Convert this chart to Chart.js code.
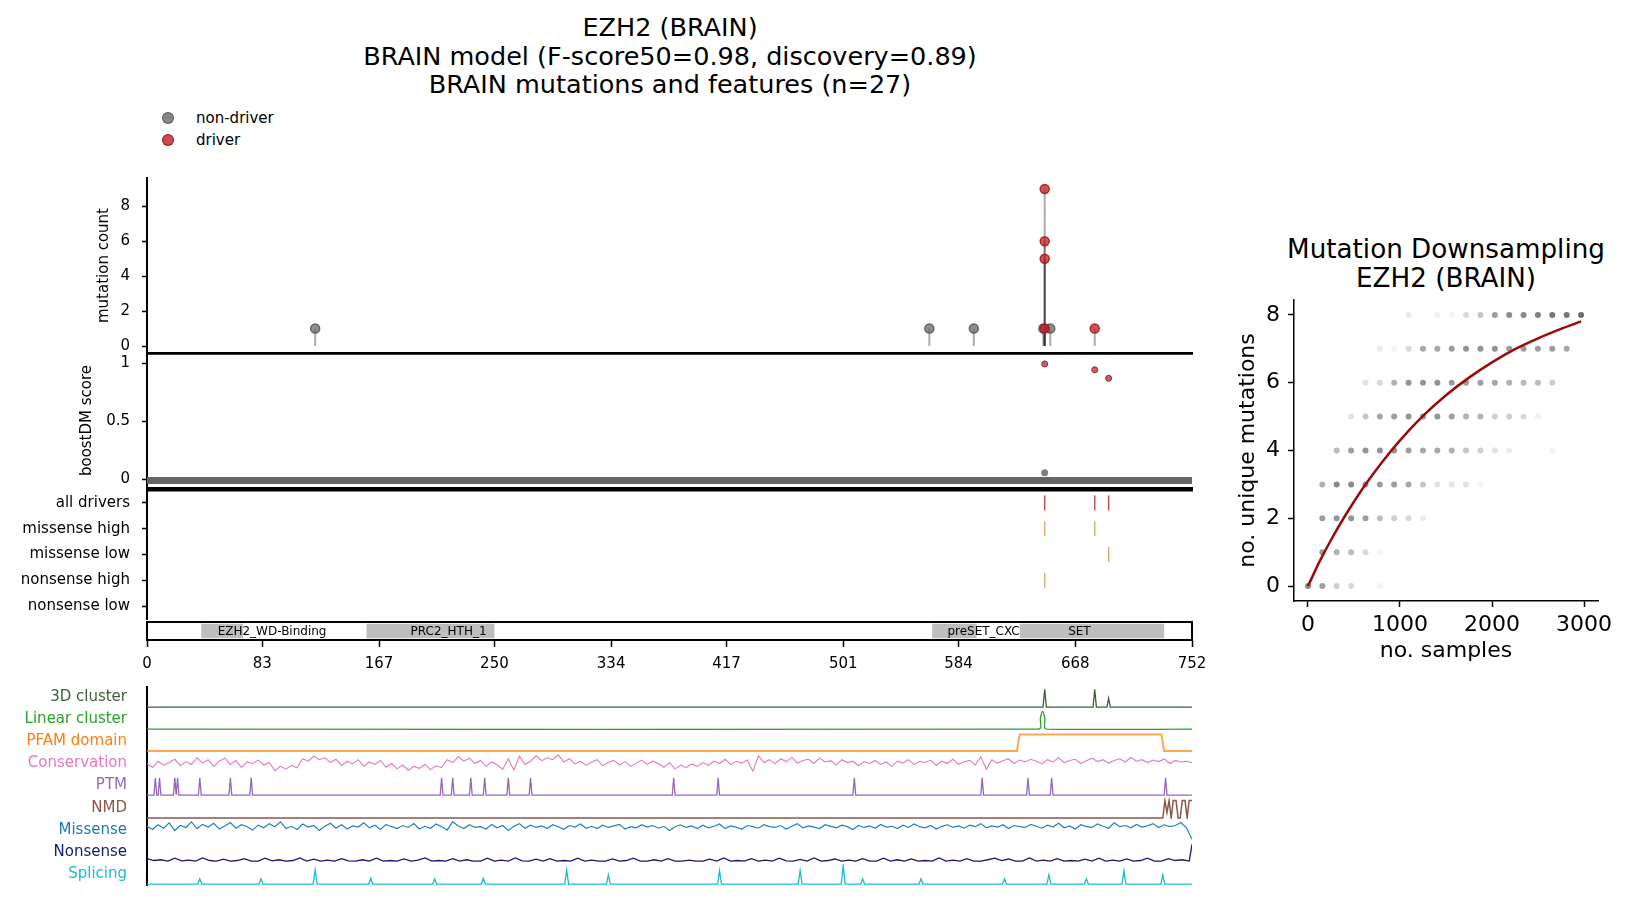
<!DOCTYPE html>
<html>
<head>
<meta charset="utf-8">
<title>EZH2 (BRAIN)</title>
<script src="https://cdn.jsdelivr.net/npm/chart.js@4.4.1/dist/chart.umd.min.js"></script>
<style>
  html, body { margin: 0; padding: 0; background: #fff; }
  #fig { position: relative; width: 1627px; height: 905px; overflow: hidden;
         font-family: 'DejaVu Sans', sans-serif; color: #000; }
  #fig canvas { position: absolute; }
  .txt { position: absolute; white-space: nowrap; }
  .dot { position: absolute; width: 10px; height: 10px; border-radius: 50%; }
</style>
</head>
<body>
<div id="fig">
  <div class="txt" style="left:270px; width:800px; top:13px; text-align:center; font-size:25.5px; line-height:28.5px;">EZH2 (BRAIN)<br>BRAIN model (F-score50=0.98, discovery=0.89)<br>BRAIN mutations and features (n=27)</div>
  <div class="dot" style="left:162px; top:112px; background:rgba(105,105,105,0.8); border:1px solid rgba(85,85,85,0.9)"></div>
  <div class="txt" style="left:196px; top:109px; font-size:15px; line-height:18px;">non-driver</div>
  <div class="dot" style="left:162px; top:134px; background:rgba(192,28,36,0.8); border:1px solid rgba(150,20,25,0.9)"></div>
  <div class="txt" style="left:196px; top:131px; font-size:15px; line-height:18px;">driver</div>
  <div class="txt" style="left:1246px; width:400px; top:235px; text-align:center; font-size:26.2px; line-height:29px;">Mutation Downsampling<br>EZH2 (BRAIN)</div>
</div>
<script>
// ---- data ----
const geneLength = 752;
const posTicks = [0, 83, 167, 250, 334, 417, 501, 584, 668, 752];

// lollipop panel
const mutPos = [121, 563, 595, 645, 650, 646, 646, 646, 646, 682];
const mutCount = [1, 1, 1, 1, 1, 9, 6, 5, 1, 1];
const mutDriver = [0, 0, 0, 0, 0, 1, 1, 1, 1, 1];
const countTicks = [0, 2, 4, 6, 8];

// boostDM panel
const boostBandPos = [0, 752];
const boostBandScore = [-0.01, -0.01];
const boostPos = [646, 646, 682, 692];
const boostScore = [0.057, 0.995, 0.944, 0.871];
const boostDriver = [0, 1, 1, 1];
const boostTicks = [0, 0.5, 1];

// driver tracks
const driverRows = ['all drivers', 'missense high', 'missense low', 'nonsense high', 'nonsense low'];
const driverHitPos = [646, 682, 692, 646, 682, 692, 646];
const driverHitRow = ['all drivers', 'all drivers', 'all drivers', 'missense high', 'missense high', 'missense low', 'nonsense high'];

// pfam domains
const domainNames = ['EZH2_WD-Binding', 'PRC2_HTH_1', 'preSET_CXC', 'SET'];
const domainStart = [39, 158, 565, 628];
const domainEnd = [69, 250, 597, 732];
const domainLabelPos = [90, 217, 602, 671];

// feature tracks
const trackNames = ['3D cluster', 'Linear cluster', 'PFAM domain', 'Conservation', 'PTM', 'NMD', 'Missense', 'Nonsense', 'Splicing'];

const cluster3dPos = [646, 682, 692];
const cluster3dVal = [0.93, 0.93, 0.46];

const linearPos = [0, 641.5, 643, 644.5, 646, 647.5, 752];
const linearVal = [0, 0, 0.6, 0.93, 0.6, 0, 0];

const pfamPos = [0, 626, 628, 730, 732, 752];
const pfamVal = [0, 0, 0.87, 0.87, 0, 0];

// conservation and missense sampled every 4 residues, nonsense every 5
const conservationStep = 4;
const conservation = [
  0.48,0.30,0.62,0.40,0.55,0.72,0.38,0.60,0.45,0.80,
  0.52,0.70,0.35,0.62,0.78,0.45,0.66,0.30,0.58,0.50,
  0.68,0.42,0.55,0.12,0.35,0.20,0.40,0.28,0.75,0.62,
  0.88,0.70,0.80,0.55,0.72,0.40,0.62,0.48,0.70,0.36,
  0.58,0.45,0.66,0.30,0.50,0.22,0.42,0.15,0.35,0.25,
  0.45,0.18,0.38,0.28,0.70,0.55,0.85,0.62,0.78,0.50,
  0.66,0.35,0.58,0.42,0.20,0.75,0.15,0.88,0.45,0.62,
  0.90,0.65,0.80,0.70,0.95,0.58,0.75,0.48,0.62,0.40,
  0.58,0.70,0.38,0.55,0.66,0.42,0.60,0.35,0.52,0.68,
  0.45,0.62,0.50,0.30,0.55,0.22,0.42,0.28,0.48,0.35,
  0.55,0.40,0.62,0.50,0.72,0.45,0.60,0.52,0.68,0.10,
  0.90,0.55,0.70,0.48,0.75,0.60,0.82,0.52,0.66,0.72,
  0.50,0.78,0.58,0.65,0.42,0.70,0.55,0.62,0.38,0.60,
  0.50,0.66,0.45,0.58,0.35,0.62,0.52,0.70,0.44,0.60,
  0.55,0.68,0.40,0.62,0.50,0.72,0.46,0.58,0.66,0.42,
  0.85,0.20,0.70,0.52,0.64,0.75,0.50,0.68,0.58,0.72,
  0.62,0.48,0.70,0.58,0.80,0.55,0.66,0.72,0.50,0.64,
  0.78,0.60,0.70,0.52,0.66,0.75,0.58,0.82,0.62,0.70,
  0.55,0.68,0.60,0.74,0.50,0.66,0.58,0.62,0.54
];

const ptmPos = [6, 9, 20, 22, 38, 60, 75, 212, 220, 233, 243, 260, 276, 379, 411, 509, 601, 634, 651, 733];
const ptmVal = [0.9, 0.9, 0.9, 0.9, 0.9, 0.9, 0.9, 0.9, 0.9, 0.9, 0.9, 0.9, 0.9, 0.9, 0.9, 0.9, 0.9, 0.9, 0.9, 0.9];

const nmdPos = [0, 731, 732.5, 734, 735.5, 737, 738.5, 740.5, 742, 743.5, 745, 747, 748.5, 750, 752];
const nmdVal = [0, 0, 0.92, 0.3, 0.92, 0, 0.92, 0.92, 0, 0, 0.92, 0.92, 0, 0.92, 0.92];

const missenseStep = 4;
const missense = [
  0.72,0.55,0.80,0.62,0.90,0.50,0.76,0.66,0.95,0.60,
  0.82,0.68,0.88,0.58,0.74,0.92,0.62,0.80,0.70,0.52,
  0.78,0.64,0.86,0.70,0.95,0.60,0.72,0.55,0.84,0.68,
  0.76,0.50,0.72,0.88,0.62,0.80,0.58,0.74,0.68,0.90,
  0.64,0.78,0.55,0.82,0.70,0.60,0.76,0.66,0.86,0.58,
  0.72,0.62,0.84,0.70,0.52,0.96,0.74,0.60,0.80,0.66,
  0.70,0.58,0.82,0.64,0.76,0.50,0.72,0.86,0.62,0.78,
  0.66,0.74,0.60,0.80,0.70,0.56,0.76,0.68,0.84,0.62,
  0.72,0.60,0.78,0.66,0.74,0.82,0.58,0.70,0.64,0.80,
  0.68,0.76,0.62,0.72,0.50,0.70,0.80,0.66,0.74,0.60,
  0.78,0.64,0.72,0.84,0.60,0.74,0.68,0.56,0.76,0.70,
  0.62,0.80,0.70,0.66,0.76,0.58,0.72,0.86,0.64,0.74,
  0.68,0.60,0.80,0.72,0.64,0.78,0.70,0.55,0.76,0.66,
  0.74,0.62,0.82,0.68,0.72,0.60,0.78,0.66,0.84,0.70,
  0.64,0.76,0.58,0.72,0.80,0.66,0.74,0.62,0.78,0.70,
  0.86,0.64,0.74,0.68,0.80,0.60,0.76,0.70,0.66,0.82,
  0.72,0.62,0.78,0.68,0.88,0.64,0.74,0.58,0.80,0.70,
  0.66,0.84,0.72,0.62,0.90,0.70,0.76,0.64,0.82,0.68,
  0.74,0.86,0.66,0.80,0.70,0.76,0.92,0.64,0.04
];

const nonsenseStep = 5;
const nonsense = [
  0.18,0.08,0.12,0.05,0.20,0.06,0.10,0.05,0.22,0.08,
  0.05,0.15,0.05,0.08,0.18,0.05,0.05,0.20,0.06,0.12,
  0.05,0.08,0.22,0.05,0.15,0.05,0.10,0.05,0.18,0.06,
  0.05,0.12,0.05,0.20,0.05,0.08,0.05,0.16,0.05,0.10,
  0.22,0.05,0.08,0.05,0.18,0.05,0.12,0.05,0.05,0.20,
  0.05,0.10,0.05,0.22,0.06,0.05,0.15,0.05,0.18,0.05,
  0.08,0.05,0.20,0.05,0.10,0.05,0.05,0.16,0.05,0.08,
  0.20,0.05,0.05,0.12,0.05,0.18,0.05,0.05,0.10,0.05,
  0.05,0.15,0.05,0.22,0.05,0.08,0.05,0.18,0.05,0.10,
  0.05,0.20,0.06,0.05,0.14,0.05,0.22,0.05,0.08,0.16,
  0.05,0.10,0.05,0.18,0.05,0.05,0.20,0.05,0.12,0.05,
  0.16,0.05,0.08,0.05,0.22,0.05,0.10,0.05,0.18,0.05,
  0.05,0.12,0.20,0.08,0.16,0.05,0.05,0.22,0.05,0.10,
  0.05,0.18,0.05,0.08,0.05,0.15,0.05,0.20,0.05,0.10,
  0.05,0.16,0.05,0.08,0.20,0.05,0.05,0.18,0.08,0.12,
  0.05,0.92
];

const splicePos = [38, 82, 121, 161, 207, 242, 302, 332, 412, 470, 501, 515, 557, 617, 649, 676, 703, 731];
const spliceVal = [0.27, 0.27, 0.74, 0.3, 0.27, 0.3, 0.74, 0.48, 0.7, 0.7, 0.95, 0.27, 0.27, 0.27, 0.48, 0.27, 0.7, 0.48];

// downsampling panel
const sampleSizes = [0, 156, 312, 469, 625, 781, 937, 1093, 1250, 1406, 1562, 1718, 1874, 2031, 2187, 2343, 2499, 2655, 2812, 2968];
const uniqueCounts = [0, 1, 2, 3, 4, 5, 6, 7, 8];
// share of runs at each (samples, unique mutations) cell -> dot opacity; one row per uniqueCounts entry
const dotShare = [
  [0.6, 0.5, 0.25, 0.2, 0, 0.06, 0, 0, 0, 0, 0, 0, 0, 0, 0, 0, 0, 0, 0, 0],
  [0, 0.5, 0.4, 0.35, 0.2, 0.06, 0, 0, 0, 0, 0, 0, 0, 0, 0, 0, 0, 0, 0, 0],
  [0, 0.5, 0.55, 0.55, 0.5, 0.35, 0.25, 0.2, 0.1, 0, 0, 0, 0, 0, 0, 0, 0, 0, 0, 0],
  [0, 0.4, 0.6, 0.6, 0.55, 0.5, 0.5, 0.45, 0.3, 0.15, 0.12, 0.15, 0.05, 0, 0, 0, 0, 0, 0, 0],
  [0, 0, 0.35, 0.5, 0.55, 0.55, 0.55, 0.5, 0.45, 0.45, 0.4, 0.3, 0.25, 0.15, 0.1, 0, 0, 0.06, 0, 0],
  [0, 0, 0, 0.15, 0.3, 0.45, 0.5, 0.55, 0.55, 0.55, 0.5, 0.4, 0.4, 0.25, 0.25, 0.2, 0.08, 0, 0, 0],
  [0, 0, 0, 0, 0.15, 0.2, 0.4, 0.55, 0.55, 0.55, 0.5, 0.5, 0.5, 0.45, 0.4, 0.35, 0.35, 0.25, 0, 0],
  [0, 0, 0, 0, 0, 0.1, 0.06, 0.2, 0.45, 0.45, 0.5, 0.55, 0.55, 0.55, 0.5, 0.5, 0.5, 0.5, 0.45, 0],
  [0, 0, 0, 0, 0, 0, 0, 0.1, 0, 0.08, 0.06, 0.2, 0.3, 0.5, 0.6, 0.6, 0.65, 0.7, 0.7, 0.75]
];
const fitX = [0, 125, 250, 400, 600, 800, 1000, 1250, 1500, 1750, 2000, 2250, 2500, 2750, 2968];
const fitY = [0, 0.72, 1.36, 2.06, 2.9, 3.64, 4.3, 5.02, 5.63, 6.15, 6.6, 6.99, 7.31, 7.59, 7.81];
const sampleTicks = [0, 1000, 2000, 3000];
const uniqueTicks = [0, 2, 4, 6, 8];

// ---- styles ----
const trackColors = ['#3a5f3a', '#2ca02c', '#ff7f0e', '#e377c2', '#9467bd', '#8c564b', '#1f77b4', '#191970', '#17becf'];
const trackLineColors = ['#3a5f3a', '#2ca02c', 'rgba(255,127,14,0.7)', '#e377c2', '#9467bd', '#8c564b', '#1f80c0', '#191970', '#17becf'];
const trackLineWidths = [1.3, 1.3, 2, 1.1, 1.3, 1.5, 1.2, 1.3, 1.3];
const driverRowColors = ['#c4514f', '#e6ad66', '#e3a866', '#e6ad66', '#e6ad66'];

const PLOT_LEFT = 147, PLOT_RIGHT = 1192, CANVAS_W = 1210;
const fig = document.getElementById('fig');

Chart.defaults.font.family = "'DejaVu Sans', sans-serif";
Chart.defaults.font.size = 15;
Chart.defaults.color = '#000';
Chart.defaults.animation = false;
Chart.defaults.events = [];
Chart.defaults.plugins.legend.display = false;
Chart.defaults.plugins.tooltip.enabled = false;

function addCanvas(left, top, width, height) {
  const c = document.createElement('canvas');
  c.width = width;
  c.height = height;
  c.style.left = left + 'px';
  c.style.top = top + 'px';
  c.style.width = width + 'px';
  c.style.height = height + 'px';
  fig.appendChild(c);
  return c;
}

// fixed axis sizes; label overhang must not push the plot area around
const fixWidth = w => s => { s.width = w; s.paddingTop = 0; s.paddingBottom = 0; };
const fixHeight = h => s => { s.height = h; s.paddingLeft = 0; s.paddingRight = 0; };
const setTicks = vals => s => { s.ticks = vals.map(v => ({ value: v })); };
const plainLabel = v => String(v);

const tickGrid = { display: true, drawOnChartArea: false, drawTicks: true, tickLength: 5, tickWidth: 1.5, tickColor: '#000' };
const noGrid = { display: false, drawTicks: false };
const spine = { display: true, color: '#000', width: 2 };
const thickSpine = { display: true, color: '#000', width: 2.6 };

// axis drawn only for its spine
function edgeAxis(position) {
  return {
    type: 'linear', position: position, min: 0, max: geneLength,
    ticks: { display: false }, grid: noGrid, border: thickSpine,
    afterFit: fixHeight(0)
  };
}

const plotPadding = (top, bottom) => ({ left: 0, right: CANVAS_W - PLOT_RIGHT, top: top, bottom: bottom });

// ---- lollipop panel ----
const stemSets = mutPos.map((p, i) => ({
  data: [{ x: p, y: 0 }, { x: p, y: mutCount[i] }],
  showLine: true, borderColor: 'rgba(0,0,0,0.33)', borderWidth: 2, pointRadius: 0
}));
const lollipops = flag => mutPos.map((p, i) => ({ x: p, y: mutCount[i] })).filter((d, i) => mutDriver[i] === flag);

new Chart(addCanvas(0, 170, CANVAS_W, 190), {
  type: 'scatter',
  data: {
    datasets: [
      { data: lollipops(1), pointRadius: 4.5, backgroundColor: 'rgba(192,28,36,0.75)', borderColor: 'rgba(165,20,28,0.85)', borderWidth: 1.5 },
      { data: lollipops(0), pointRadius: 4.5, backgroundColor: 'rgba(105,105,105,0.75)', borderColor: 'rgba(85,85,85,0.85)', borderWidth: 1.5 },
      ...stemSets
    ]
  },
  options: {
    responsive: false,
    layout: { padding: plotPadding(8, 7) },
    scales: {
      x: edgeAxis('bottom'),
      y: {
        min: -0.4, max: 9.63,
        afterBuildTicks: setTicks(countTicks), afterFit: fixWidth(PLOT_LEFT),
        grid: tickGrid, border: spine, ticks: { padding: 12, callback: plainLabel },
        title: { display: true, text: 'mutation count', padding: { top: 95, bottom: 0 } }
      }
    }
  }
});

// ---- boostDM panel ----
const boostPoints = flag => boostPos.map((p, i) => ({ x: p, y: boostScore[i] })).filter((d, i) => boostDriver[i] === flag);

new Chart(addCanvas(0, 345, CANVAS_W, 151), {
  type: 'scatter',
  data: {
    datasets: [
      { data: boostPoints(1), pointRadius: 3, backgroundColor: 'rgba(192,40,45,0.75)', borderColor: 'rgba(150,20,25,0.9)', borderWidth: 1 },
      { data: boostPoints(0), pointRadius: 3.5, backgroundColor: 'rgba(105,105,105,0.85)', borderWidth: 0 },
      { data: boostBandPos.map((p, i) => ({ x: p, y: boostBandScore[i] })), showLine: true, borderColor: '#666666', borderWidth: 7, pointRadius: 0 }
    ]
  },
  options: {
    responsive: false,
    layout: { padding: plotPadding(8, 8) },
    scales: {
      x: edgeAxis('bottom'),
      x2: edgeAxis('top'),
      y: {
        min: -0.075, max: 1.089,
        afterBuildTicks: setTicks(boostTicks), afterFit: fixWidth(PLOT_LEFT),
        grid: tickGrid, border: spine, ticks: { padding: 12, callback: plainLabel },
        title: { display: true, text: 'boostDM score', padding: { top: 78, bottom: 0 } }
      }
    }
  }
});

// ---- driver tick rows ----
const driverSets = driverRows.map((row, r) => ({
  data: driverHitPos.map((p, i) => ({ x: p, y: driverHitRow[i] })).filter((d, i) => driverHitRow[i] === row),
  pointStyle: 'line', rotation: 90, pointRadius: 7.5,
  borderColor: driverRowColors[r], backgroundColor: driverRowColors[r], borderWidth: 1.5
}));

new Chart(addCanvas(0, 481, CANVAS_W, 147), {
  type: 'scatter',
  data: { datasets: driverSets },
  options: {
    responsive: false,
    layout: { padding: plotPadding(8, 8) },
    scales: {
      x: { type: 'linear', min: 0, max: geneLength, display: false },
      x2: edgeAxis('top'),
      y: {
        type: 'category', labels: driverRows, offset: true,
        afterFit: fixWidth(PLOT_LEFT), grid: tickGrid, border: spine, ticks: { padding: 12 }
      }
    }
  }
});

// ---- domain bar + position axis ----
const domainLabelPlugin = {
  id: 'domainLabels',
  afterDatasetsDraw(chart) {
    const { ctx, chartArea, scales } = chart;
    ctx.save();
    ctx.font = "12px 'DejaVu Sans', sans-serif";
    ctx.fillStyle = '#000';
    ctx.textAlign = 'center';
    ctx.textBaseline = 'middle';
    domainNames.forEach((name, i) => {
      ctx.fillText(name, scales.x.getPixelForValue(domainLabelPos[i]), (chartArea.top + chartArea.bottom) / 2 + 1);
    });
    ctx.restore();
  }
};
const boxSpine = { display: true, color: '#000', width: 2, z: 1 };

new Chart(addCanvas(0, 614, CANVAS_W, 70), {
  type: 'bar',
  data: {
    labels: ['domains'],
    datasets: domainNames.map((n, i) => ({
      label: n, data: [[domainStart[i], domainEnd[i]]],
      backgroundColor: '#bebebe', borderWidth: 0,
      barPercentage: 0.8, categoryPercentage: 1, grouped: false
    }))
  },
  options: {
    indexAxis: 'y',
    responsive: false,
    layout: { padding: plotPadding(8, 0) },
    scales: {
      x: {
        type: 'linear', position: 'bottom', min: 0, max: geneLength,
        afterBuildTicks: setTicks(posTicks), afterFit: fixHeight(44),
        grid: { display: true, drawOnChartArea: false, drawTicks: true, tickLength: 7, tickWidth: 1.5, tickColor: '#000' },
        border: boxSpine,
        ticks: { padding: 8, autoSkip: false, maxRotation: 0, callback: plainLabel }
      },
      x2: { type: 'linear', position: 'top', min: 0, max: geneLength, ticks: { display: false }, grid: noGrid, border: boxSpine, afterFit: fixHeight(0) },
      y: { type: 'category', afterFit: fixWidth(PLOT_LEFT), ticks: { display: false }, grid: noGrid, border: boxSpine },
      y2: { type: 'linear', position: 'right', afterFit: fixWidth(0), ticks: { display: false }, grid: noGrid, border: boxSpine }
    }
  },
  plugins: [domainLabelPlugin]
});

// ---- feature tracks ----
function spikes(pos, val, half) {
  const pts = [{ x: 0, y: 0 }];
  pos.forEach((p, i) => { pts.push({ x: p - half, y: 0 }, { x: p, y: val[i] }, { x: p + half, y: 0 }); });
  pts.push({ x: geneLength, y: 0 });
  return pts;
}
const pairs = (pos, val) => pos.map((p, i) => ({ x: p, y: val[i] }));
const sampled = (vals, step) => vals.map((v, i) => ({ x: Math.min(i * step, geneLength), y: v }));

const trackSeries = [
  spikes(cluster3dPos, cluster3dVal, 1.2),
  pairs(linearPos, linearVal),
  pairs(pfamPos, pfamVal),
  sampled(conservation, conservationStep),
  spikes(ptmPos, ptmVal, 1.0),
  pairs(nmdPos, nmdVal),
  sampled(missense, missenseStep),
  sampled(nonsense, nonsenseStep),
  spikes(splicePos, spliceVal, 1.4)
];

trackNames.forEach((name, t) => {
  const top = Math.round(686.5 + 22.2 * t);
  new Chart(addCanvas(0, top - 2, CANVAS_W, 25), {
    type: 'line',
    data: {
      datasets: [{
        data: trackSeries[t], borderColor: trackLineColors[t], borderWidth: trackLineWidths[t],
        pointRadius: 0, tension: t === 1 ? 0.4 : 0
      }]
    },
    options: {
      responsive: false,
      layout: { padding: plotPadding(2, 2) },
      scales: {
        x: { type: 'linear', min: 0, max: geneLength, display: false },
        y: {
          min: -0.05, max: 1.05,
          afterBuildTicks: setTicks([0.5]), afterFit: fixWidth(PLOT_LEFT),
          grid: noGrid, border: spine,
          ticks: { padding: 20, color: trackColors[t], callback: () => name }
        }
      }
    }
  });
});

// ---- mutation downsampling ----
const dotData = [];
const dotColors = [];
uniqueCounts.forEach((u, r) => {
  sampleSizes.forEach((s, i) => {
    const a = dotShare[r][i];
    if (a > 0) {
      dotData.push({ x: s, y: u });
      dotColors.push('rgba(60,60,60,' + a + ')');
    }
  });
});

new Chart(addCanvas(1200, 295, 427, 380), {
  type: 'scatter',
  data: {
    datasets: [
      { data: pairs(fitX, fitY), showLine: true, borderColor: '#9b0a0a', borderWidth: 2.5, pointRadius: 0, cubicInterpolationMode: 'monotone' },
      { data: dotData, pointRadius: 3, backgroundColor: dotColors, borderWidth: 0 }
    ]
  },
  options: {
    responsive: false,
    layout: { padding: { left: 0, right: 29, top: 5, bottom: 0 } },
    scales: {
      x: {
        min: -152, max: 3152,
        afterBuildTicks: setTicks(sampleTicks), afterFit: fixHeight(74),
        grid: { display: true, drawOnChartArea: false, drawTicks: true, tickLength: 6, tickWidth: 1.5, tickColor: '#000' },
        border: { display: true, color: '#000', width: 1.5 },
        ticks: { padding: 5, font: { size: 22 }, callback: plainLabel },
        title: { display: true, text: 'no. samples', font: { size: 22 }, padding: { top: 0, bottom: 11 } }
      },
      y: {
        min: -0.44, max: 8.44,
        afterBuildTicks: setTicks(uniqueTicks), afterFit: fixWidth(94),
        grid: { display: true, drawOnChartArea: false, drawTicks: true, tickLength: 6, tickWidth: 1.5, tickColor: '#000' },
        border: { display: true, color: '#000', width: 1.5 },
        ticks: { padding: 8, font: { size: 22 }, callback: plainLabel },
        title: { display: true, text: 'no. unique mutations', font: { size: 22 }, padding: { top: 35, bottom: 0 } }
      }
    }
  }
});
</script>
</body>
</html>
